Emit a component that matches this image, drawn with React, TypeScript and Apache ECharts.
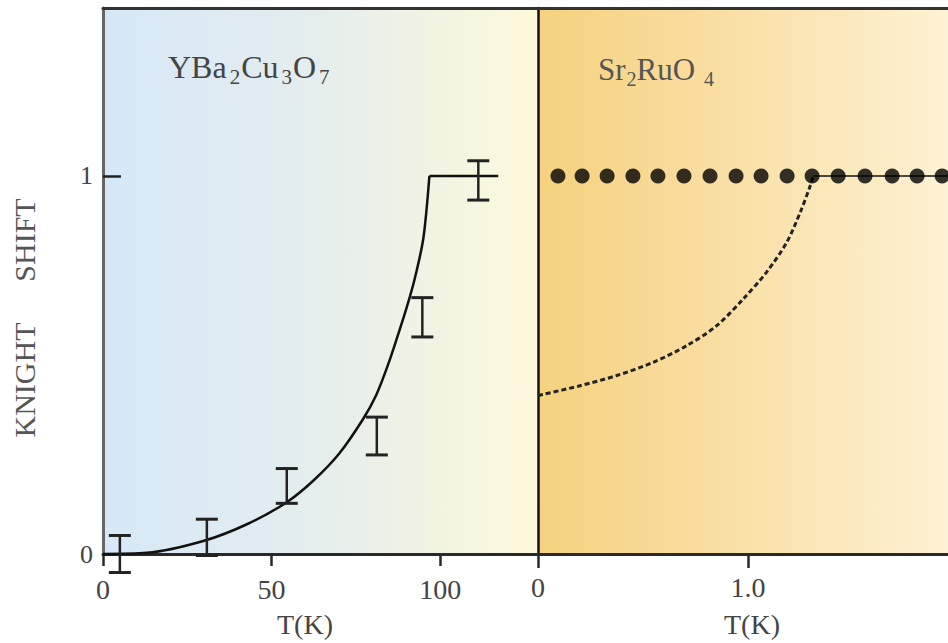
import React, { useEffect, useRef } from "react";
import * as echarts from "echarts";

// ---- data ----
const leftTicks = [0, 50, 100];
const rightTicks = [0, 1];
const yTicks = [0, 1];

const ybcoCurveT = [0, 13, 30, 43, 54.5, 62.5, 70, 77, 81, 84.5, 87.5, 90, 92.5, 95, 96.8];
const ybcoCurveK = [0, 0.003, 0.035, 0.08, 0.137, 0.195, 0.265, 0.355, 0.42, 0.5, 0.58, 0.65, 0.73, 0.835, 1.0];
const ybcoFlatT = [96.8, 117.2];
const ybcoFlatK = [1, 1];

const ybcoBarT = [5, 30.8, 54.5, 81.2, 94.7, 111.3];
const ybcoBarK = [0, 0.044, 0.18, 0.312, 0.626, 0.988];
const ybcoBarErr = [0.049, 0.048, 0.046, 0.05, 0.052, 0.052];

const sroDotsT = [0.095, 0.21, 0.329, 0.452, 0.571, 0.695, 0.819, 0.943, 1.062, 1.186, 1.305, 1.429, 1.557, 1.686, 1.805, 1.924];
const sroDotsK = [1, 1, 1, 1, 1, 1, 1, 1, 1, 1, 1, 1, 1, 1, 1, 1];

const sroDashT = [0, 0.2, 0.375, 0.549, 0.708, 0.851, 0.978, 1.089, 1.184, 1.248, 1.295, 1.311];
const sroDashK = [0.419, 0.445, 0.472, 0.507, 0.551, 0.604, 0.675, 0.746, 0.824, 0.903, 0.972, 1.0];
const sroFlatT = [1.311, 1.952];
const sroFlatK = [1, 1];

const zip = (a: number[], b: number[]) => a.map((v, i) => [v, b[i]]);

const SERIF = "'Liberation Serif', 'DejaVu Serif', serif";
const LABEL_COLOR = "#444";

export default function App() {
  const ref = useRef<HTMLDivElement>(null);
  useEffect(() => {
    if (!ref.current) return;
    const chart = echarts.init(ref.current, null, { renderer: "svg" });

    const leftBg = new echarts.graphic.LinearGradient(0, 0, 1, 0, [
      { offset: 0, color: "#d6e8f7" },
      { offset: 0.45, color: "#e3edef" },
      { offset: 0.75, color: "#f1f3e3" },
      { offset: 1, color: "#fdf9dc" },
    ]);
    const rightBg = new echarts.graphic.LinearGradient(0, 0, 1, 0, [
      { offset: 0, color: "#f6d27f" },
      { offset: 0.4, color: "#f9dd9f" },
      { offset: 1, color: "#fdf2d4" },
    ]);

    const tickLabelStyle = {
      fontFamily: SERIF,
      fontSize: 28,
      color: LABEL_COLOR,
    };

    const errRender = (params: any, api: any) => {
      const x = api.value(0);
      const y = api.value(1);
      const e = api.value(2);
      const top = api.coord([x, y + e]);
      const bot = api.coord([x, y - e]);
      const hw = 11;
      const st = { stroke: "#222", lineWidth: 2.5 };
      const cap = { stroke: "#222", lineWidth: 3 };
      return {
        type: "group",
        children: [
          { type: "line", shape: { x1: top[0], y1: top[1], x2: bot[0], y2: bot[1] }, style: st },
          { type: "line", shape: { x1: top[0] - hw, y1: top[1], x2: top[0] + hw, y2: top[1] }, style: cap },
          { type: "line", shape: { x1: bot[0] - hw, y1: bot[1], x2: bot[0] + hw, y2: bot[1] }, style: cap },
        ],
      };
    };

    const option: any = {
      animation: false,
      backgroundColor: "#ffffff",
      grid: [
        { left: 103, top: 8, width: 435, bottom: 89, show: true, borderWidth: 0, backgroundColor: leftBg },
        { left: 538, top: 8, right: 0, bottom: 89, show: true, borderWidth: 0, backgroundColor: rightBg },
      ],
      xAxis: [
        {
          gridIndex: 0, type: "value", min: 0, max: 129,
          axisLine: { show: true, onZero: false, lineStyle: { color: "#2a2a2a", width: 3 } },
          axisTick: { show: true, length: 12, customValues: leftTicks, lineStyle: { color: "#2a2a2a", width: 2.5 } },
          axisLabel: { show: true, customValues: leftTicks, margin: 21, ...tickLabelStyle },
          splitLine: { show: false },
        },
        {
          gridIndex: 1, type: "value", min: 0, max: 1.952,
          axisLine: { show: true, onZero: false, lineStyle: { color: "#2a2a2a", width: 3 } },
          axisTick: { show: true, length: 14, customValues: rightTicks, lineStyle: { color: "#2a2a2a", width: 2.5 } },
          axisLabel: {
            show: true, customValues: rightTicks, margin: 19, ...tickLabelStyle,
            formatter: (v: number) => (v === 0 ? "0" : v.toFixed(1)),
          },
          splitLine: { show: false },
        },
        {
          gridIndex: 0, type: "value", min: 0, max: 129, position: "top",
          axisLine: { show: true, onZero: false, lineStyle: { color: "#333", width: 3 } },
          axisTick: { show: false }, axisLabel: { show: false }, splitLine: { show: false },
        },
        {
          gridIndex: 1, type: "value", min: 0, max: 1.952, position: "top",
          axisLine: { show: true, onZero: false, lineStyle: { color: "#333", width: 3 } },
          axisTick: { show: false }, axisLabel: { show: false }, splitLine: { show: false },
        },
      ],
      yAxis: [
        {
          gridIndex: 0, type: "value", min: 0, max: 1.444,
          axisLine: { show: true, onZero: false, lineStyle: { color: "#666", width: 3 } },
          axisTick: { show: true, inside: true, length: 18, customValues: yTicks, lineStyle: { color: "#222", width: 2.5 } },
          axisLabel: { show: true, customValues: yTicks, margin: 10, fontFamily: SERIF, fontSize: 26, color: LABEL_COLOR },
          splitLine: { show: false },
        },
        {
          gridIndex: 1, type: "value", min: 0, max: 1.444,
          axisLine: { show: true, onZero: false, lineStyle: { color: "#111", width: 2.5 } },
          axisTick: { show: false }, axisLabel: { show: false }, splitLine: { show: false },
        },
      ],
      graphic: [
        {
          type: "text", left: 168, top: 47, z: 10,
          style: {
            text: "YBa{s|2}Cu{s|3}O{s|7}",
            fontFamily: SERIF, fontSize: 32, fill: "#444", lineHeight: 40,
            rich: { s: { fontFamily: SERIF, fontSize: 21, lineHeight: 21, padding: [19, 1, 0, 3], fill: "#444" } },
          },
        },
        {
          type: "text", left: 598, top: 49, z: 10,
          style: {
            text: "Sr{s|2}RuO {s|4}",
            fontFamily: SERIF, fontSize: 31, fill: "#555", lineHeight: 40,
            rich: { s: { fontFamily: SERIF, fontSize: 20, lineHeight: 20, padding: [19, 0, 0, 1], fill: "#555" } },
          },
        },
        {
          type: "text", x: 305, y: 624, z: 10,
          style: { text: "T(K)", fontFamily: SERIF, fontSize: 28, fill: LABEL_COLOR, align: "center", verticalAlign: "middle" },
        },
        {
          type: "text", x: 752, y: 624, z: 10,
          style: { text: "T(K)", fontFamily: SERIF, fontSize: 28, fill: LABEL_COLOR, align: "center", verticalAlign: "middle" },
        },
        {
          type: "text", x: 24, y: 380, rotation: Math.PI / 2, z: 10,
          style: { text: "KNIGHT", fontFamily: SERIF, fontSize: 30, fill: "#555", align: "center", verticalAlign: "middle" },
        },
        {
          type: "text", x: 24, y: 240, rotation: Math.PI / 2, z: 10,
          style: { text: "SHIFT", fontFamily: SERIF, fontSize: 30, fill: "#555", align: "center", verticalAlign: "middle" },
        },
      ],
      series: [
        {
          type: "line", xAxisIndex: 0, yAxisIndex: 0, data: zip(ybcoCurveT, ybcoCurveK),
          smooth: 0.3, showSymbol: false, symbol: "none", clip: false,
          lineStyle: { color: "#111", width: 2.5 }, z: 3,
        },
        {
          type: "line", xAxisIndex: 0, yAxisIndex: 0, data: zip(ybcoFlatT, ybcoFlatK),
          showSymbol: false, symbol: "none", lineStyle: { color: "#111", width: 2.5 }, z: 3,
        },
        {
          type: "custom", xAxisIndex: 0, yAxisIndex: 0, renderItem: errRender, clip: false,
          data: ybcoBarT.map((t, i) => [t, ybcoBarK[i], ybcoBarErr[i]]), z: 4,
        },
        {
          type: "line", xAxisIndex: 1, yAxisIndex: 1, data: zip(sroDashT, sroDashK),
          smooth: 0.3, showSymbol: false, symbol: "none",
          lineStyle: { color: "#222", width: 3, type: [5, 3] }, z: 3,
        },
        {
          type: "line", xAxisIndex: 1, yAxisIndex: 1, data: zip(sroFlatT, sroFlatK),
          showSymbol: false, symbol: "none", lineStyle: { color: "#111", width: 1.5 }, z: 3,
        },
        {
          type: "scatter", xAxisIndex: 1, yAxisIndex: 1, data: zip(sroDotsT, sroDotsK),
          symbol: "circle", symbolSize: 15, itemStyle: { color: "#000" }, z: 5,
        },
      ],
    };
    chart.setOption(option);
    return () => chart.dispose();
  }, []);
  return <div ref={ref} style={{ width: 948, height: 643, position: "absolute", left: 0, top: 0 }} />;
}
